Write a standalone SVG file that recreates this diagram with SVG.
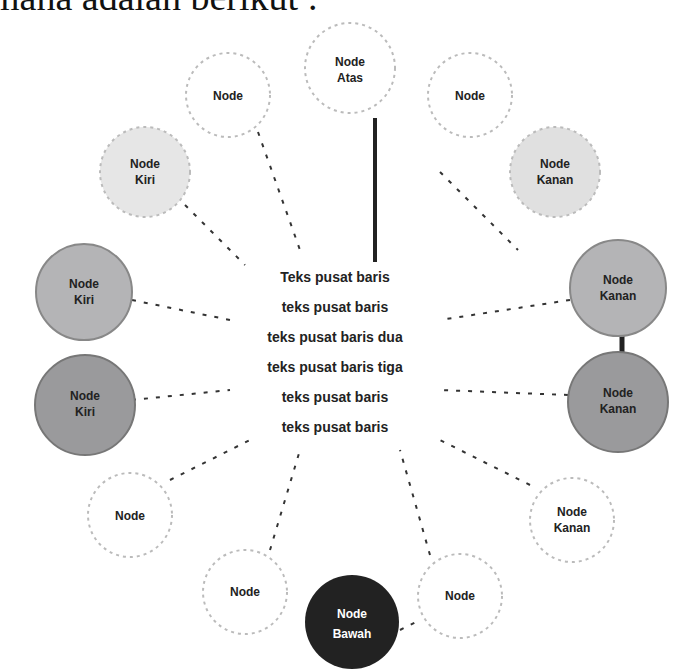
<svg xmlns="http://www.w3.org/2000/svg" width="680" height="671" viewBox="0 0 680 671">
<style>
.hdr{font-family:"Liberation Serif",serif;font-size:38px;fill:#111}
.n{stroke:#bbb;stroke-width:2;stroke-dasharray:3 4}
.t{font-family:"Liberation Sans",sans-serif;font-size:12px;font-weight:bold;fill:#222;text-anchor:middle}
.tw{font-family:"Liberation Sans",sans-serif;font-size:12px;font-weight:bold;fill:#fff;text-anchor:middle}
.c{font-family:"Liberation Sans",sans-serif;font-size:14px;font-weight:bold;fill:#222;text-anchor:middle}
.ln{stroke:#333;stroke-width:2;stroke-dasharray:4 8;fill:none}
.th{stroke:#222;stroke-width:4;fill:none}
</style>
<rect width="680" height="671" fill="#fff"/>
<text class="hdr" x="-10" y="10">mana adalah berikut :</text>
<g id="connectors">
<line class="th" x1="375" y1="118" x2="375" y2="262"/>
<line class="ln" x1="258" y1="132" x2="300" y2="250"/>
<line class="ln" x1="440" y1="172" x2="518" y2="250"/>
<line class="ln" x1="185" y1="205" x2="245" y2="265"/>
<line class="ln" x1="132" y1="300" x2="230" y2="320"/>
<line class="ln" x1="570" y1="300" x2="440" y2="320"/>
<line class="ln" x1="132" y1="400" x2="230" y2="390"/>
<line class="ln" x1="568" y1="395" x2="440" y2="390"/>
<line class="ln" x1="170" y1="480" x2="250" y2="440"/>
<line class="ln" x1="530" y1="485" x2="440" y2="440"/>
<line class="ln" x1="270" y1="550" x2="300" y2="450"/>
<line class="ln" x1="430" y1="555" x2="400" y2="450"/>
<line class="th" x1="622" y1="335" x2="622" y2="358" style="stroke-width:5"/>
<line class="ln" x1="400" y1="630" x2="420" y2="620"/>
</g>
<g id="n-top"><circle class="n" cx="350" cy="68" r="45" fill="#fff"/><text class="t" x="350" y="66">Node</text><text class="t" x="350" y="82">Atas</text></g>
<g id="n-ul"><circle class="n" cx="228" cy="95" r="42" fill="#fff"/><text class="t" x="228" y="100">Node</text></g>
<g id="n-ur"><circle class="n" cx="470" cy="95" r="42" fill="#fff"/><text class="t" x="470" y="100">Node</text></g>
<g id="n-l2"><circle class="n" cx="145" cy="172" r="45" fill="#e6e6e6"/><text class="t" x="145" y="168">Node</text><text class="t" x="145" y="184">Kiri</text></g>
<g id="n-r2"><circle class="n" cx="555" cy="172" r="45" fill="#e0e0e0"/><text class="t" x="555" y="168">Node</text><text class="t" x="555" y="184">Kanan</text></g>
<g id="n-l3"><circle cx="84" cy="292" r="48" fill="#b4b4b6" stroke="#888" stroke-width="2"/><text class="t" x="84" y="288">Node</text><text class="t" x="84" y="304">Kiri</text></g>
<g id="n-r3"><circle cx="618" cy="288" r="48" fill="#b4b4b6" stroke="#888" stroke-width="2"/><text class="t" x="618" y="284">Node</text><text class="t" x="618" y="300">Kanan</text></g>
<g id="n-l4"><circle cx="85" cy="405" r="50" fill="#9a9a9c" stroke="#777" stroke-width="2"/><text class="t" x="85" y="400">Node</text><text class="t" x="85" y="416">Kiri</text></g>
<g id="n-r4"><circle cx="618" cy="402" r="50" fill="#9a9a9c" stroke="#777" stroke-width="2"/><text class="t" x="618" y="397">Node</text><text class="t" x="618" y="413">Kanan</text></g>
<g id="n-l5"><circle class="n" cx="130" cy="515" r="42" fill="#fff"/><text class="t" x="130" y="520">Node</text></g>
<g id="n-r5"><circle class="n" cx="572" cy="520" r="42" fill="#fff"/><text class="t" x="572" y="516">Node</text><text class="t" x="572" y="532">Kanan</text></g>
<g id="n-bl"><circle class="n" cx="245" cy="592" r="42" fill="#fff"/><text class="t" x="245" y="596">Node</text></g>
<g id="n-br"><circle class="n" cx="460" cy="596" r="42" fill="#fff"/><text class="t" x="460" y="600">Node</text></g>
<g id="n-bottom"><circle cx="352" cy="622" r="47" fill="#222"/><text class="tw" x="352" y="618">Node</text><text class="tw" x="352" y="638">Bawah</text></g>
<g id="center">
<text class="c" x="335" y="282">Teks pusat baris</text>
<text class="c" x="335" y="312">teks pusat baris</text>
<text class="c" x="335" y="342">teks pusat baris dua</text>
<text class="c" x="335" y="372">teks pusat baris tiga</text>
<text class="c" x="335" y="402">teks pusat baris</text>
<text class="c" x="335" y="432">teks pusat baris</text>
</g>
</svg>
